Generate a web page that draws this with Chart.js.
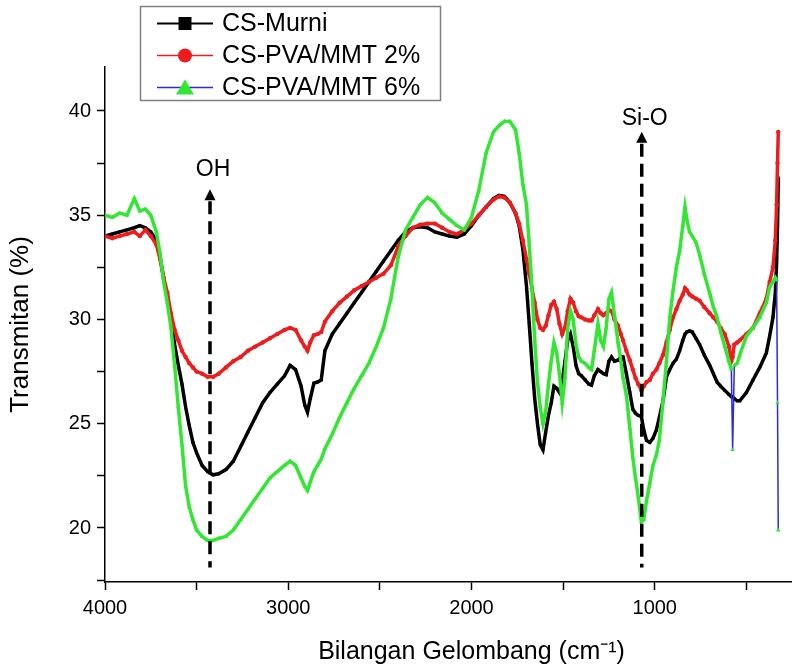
<!DOCTYPE html>
<html>
<head>
<meta charset="utf-8">
<script src="https://cdn.jsdelivr.net/npm/chart.js@4.4.1/dist/chart.umd.min.js"></script>
<style>
  html, body { margin: 0; padding: 0; background: #fff; overflow: hidden; width: 792px; height: 669px; }
  #wrap { position: relative; width: 850px; height: 669px; }
</style>
</head>
<body>
<div id="wrap"><canvas id="c"></canvas></div>
<script>
// ---- data ----
const wavenumbers = [4000,3960,3920,3880,3840,3810,3780,3750,3720,3700,3680,3660,3640,3620,3600,3580,3560,3540,3520,3500,
  3470,3440,3410,3380,3340,3300,3260,3220,3180,3140,3100,3060,3020,2990,2960,2930,2910,2895,2880,2860,
  2840,2820,2800,2760,2720,2680,2640,2600,2560,2520,2480,2440,2400,2360,2320,2280,2240,2200,2160,2120,
  2080,2040,2000,1960,1920,1880,1850,1820,1790,1760,1740,1720,1700,1685,1670,1655,1640,1625,1610,1595,
  1580,1565,1550,1535,1520,1505,1490,1475,1460,1445,1430,1415,1400,1380,1360,1345,1330,1310,1295,1280,
  1265,1250,1236,1220,1200,1185,1173,1155,1136,1120,1105,1090,1073,1060,1045,1027,1010,991,975,955,
  936,918,900,882,864,847,835,825,810,795,775,755,730,700,680,660,640,618,595,582,
  575,566,550,536,500,464,427,391,373,355,342,335,330,326];

const csMurni = [34.0,34.1,34.2,34.3,34.4,34.5,34.4,34.2,33.8,33.0,32.0,31.0,30.0,28.8,27.8,26.9,25.8,24.9,24.1,23.6,
  23.0,22.7,22.55,22.6,22.8,23.2,23.9,24.6,25.3,26.0,26.5,26.9,27.3,27.8,27.6,26.8,25.9,25.55,26.2,26.95,
  27.0,27.1,28.5,29.3,29.8,30.3,30.8,31.3,31.8,32.3,32.8,33.3,33.8,34.2,34.4,34.45,34.4,34.2,34.1,34.0,
  33.95,34.1,34.5,35.0,35.4,35.8,35.95,35.9,35.6,35.1,34.5,33.4,31.6,29.8,27.9,26.2,25.0,24.0,23.75,24.6,
  25.4,26.0,26.8,26.7,26.5,27.0,28.0,29.0,29.3,28.7,27.8,27.4,27.3,27.1,26.9,26.85,27.3,27.6,27.5,27.4,
  27.35,28.0,28.2,28.0,28.05,28.2,28.2,27.4,26.5,25.7,25.5,25.4,25.35,24.7,24.2,24.1,24.3,24.7,25.3,26.1,
  27.25,27.6,27.9,28.1,28.5,29.0,29.3,29.4,29.45,29.4,29.1,28.8,28.3,27.8,27.4,27.0,26.8,26.6,26.4,26.3,
  26.3,26.2,26.1,26.1,26.5,27.1,27.7,28.4,29.2,30.1,31.3,32.7,34.5,36.8];

const csPva2 = [34.0,33.9,34.0,34.1,34.2,34.0,34.3,34.0,33.6,32.9,32.0,31.3,30.3,29.5,29.0,28.5,28.2,27.9,27.7,27.5,
  27.4,27.25,27.25,27.4,27.7,28.0,28.2,28.5,28.7,28.9,29.1,29.3,29.5,29.6,29.5,29.0,28.7,28.5,28.9,29.25,
  29.3,29.4,29.9,30.4,30.8,31.1,31.4,31.6,31.8,32.0,32.2,32.6,33.5,34.0,34.4,34.55,34.6,34.6,34.4,34.2,
  34.1,34.3,34.6,35.0,35.4,35.75,35.9,35.85,35.6,35.1,34.6,33.8,32.9,32.2,31.5,30.8,30.0,29.6,29.5,29.7,
  30.2,30.7,30.85,30.5,29.8,29.3,29.6,30.4,31.0,30.8,30.4,30.15,30.1,30.0,29.95,29.95,30.2,30.5,30.3,30.2,
  30.3,30.45,30.4,30.0,29.7,29.3,29.0,28.5,28.05,27.6,27.2,26.9,26.6,26.8,27.0,27.1,27.4,27.6,27.9,28.3,
  28.9,29.5,30.1,30.5,30.9,31.2,31.5,31.4,31.2,31.1,31.0,30.9,30.6,30.3,30.1,29.9,29.6,29.3,28.7,28.0,
  28.2,28.8,28.9,29.0,29.3,29.6,30.3,31.0,31.8,32.5,33.8,35.5,37.5,39.0];

const csPva6 = [35.0,34.9,35.1,35.0,35.8,35.2,35.3,35.0,34.2,33.2,31.8,30.8,29.6,27.8,25.8,24.0,22.0,21.0,20.4,19.9,
  19.6,19.4,19.4,19.5,19.6,19.9,20.4,20.9,21.4,21.9,22.4,22.7,23.0,23.2,23.0,22.4,22.0,21.8,22.2,22.7,
  23.0,23.3,23.8,24.5,25.3,26.0,26.7,27.3,27.9,28.7,29.6,31.0,33.0,34.3,34.9,35.5,35.85,35.6,35.1,34.8,
  34.5,34.3,34.9,36.2,38.0,39.0,39.3,39.5,39.5,39.1,38.0,36.5,35.5,33.6,31.5,29.0,27.0,25.8,25.0,25.6,
  26.9,28.0,28.9,28.4,27.4,26.0,27.2,29.6,30.4,30.0,28.8,28.2,28.0,27.9,27.7,27.6,28.5,29.8,29.0,28.7,
  29.6,31.0,31.3,30.2,28.9,28.0,27.2,26.4,24.8,23.4,22.4,21.5,20.3,20.4,21.3,22.15,23.0,23.5,24.2,26.1,
  28.0,30.1,31.4,32.5,33.3,34.5,35.4,34.8,34.2,34.0,33.7,33.1,32.2,31.25,30.6,30.1,29.4,28.7,28.0,27.6,
  23.75,27.8,27.9,28.3,29.2,29.6,30.1,30.8,31.55,31.8,32.0,31.9,26.0,19.9];

const seriesNames = ['CS-Murni', 'CS-PVA/MMT 2%', 'CS-PVA/MMT 6%'];
const xTickValues = [0,500,1000,1500,2000,2500,3000,3500,4000];
const xTickLabels = [0,1000,2000,3000,4000];
const yTickValues = [17.5,20,22.5,25,27.5,30,32.5,35,37.5,40];
const yTickLabels = [20,25,30,35,40];
const annotations = [
  { label: 'OH',   wavenumber: 3427, tip: 36.25, labelY: 36.9 },
  { label: 'Si-O', wavenumber: 1071, tip: 39.0,  labelY: 39.35 }
];
const annotationBottom = 18.1;

const BLACK = '#000000', RED = '#ee1c1c', GREEN = '#33e633', BLUE = '#2a2ae6';

function pts(arr) { return wavenumbers.map((w, i) => ({ x: w, y: arr[i] })); }

const annotationPlugin = {
  id: 'arrows',
  afterDatasetsDraw(chart) {
    const { ctx, scales: { x, y } } = chart;
    ctx.save();
    annotations.forEach(a => {
      const px = x.getPixelForValue(a.wavenumber);
      const top = y.getPixelForValue(a.tip);
      const bot = y.getPixelForValue(annotationBottom);
      ctx.strokeStyle = '#000';
      ctx.lineWidth = 3.5;
      ctx.setLineDash([13, 7]);
      ctx.beginPath();
      ctx.moveTo(px, top + 12);
      ctx.lineTo(px, bot);
      ctx.stroke();
      ctx.setLineDash([]);
      ctx.fillStyle = '#000';
      ctx.beginPath();
      ctx.moveTo(px, top);
      ctx.lineTo(px - 5.5, top + 11);
      ctx.lineTo(px + 5.5, top + 11);
      ctx.closePath();
      ctx.fill();
      ctx.font = '23px "Liberation Sans", Arial, sans-serif';
      ctx.textAlign = 'center';
      ctx.textBaseline = 'alphabetic';
      ctx.fillText(a.label, px + 3, y.getPixelForValue(a.labelY));
    });
    ctx.restore();
  }
};

const legendPlugin = {
  id: 'boxLegend',
  afterDraw(chart) {
    const { ctx } = chart;
    ctx.save();
    ctx.strokeStyle = '#808080';
    ctx.lineWidth = 1.5;
    ctx.strokeRect(140.5, 6.5, 300, 94);
    const rows = [23.5, 55.5, 87.5];
    const lineCols = [BLACK, RED, BLUE];
    chart.data.datasets.forEach((ds, i) => {
      const yy = rows[i];
      ctx.strokeStyle = lineCols[i];
      ctx.lineWidth = i === 0 ? 2 : 1.5;
      ctx.beginPath();
      ctx.moveTo(157, yy);
      ctx.lineTo(213, yy);
      ctx.stroke();
      const cx = 185;
      if (i === 0) {
        ctx.fillStyle = BLACK;
        ctx.fillRect(cx - 6.5, yy - 6.5, 13, 13);
      } else if (i === 1) {
        ctx.fillStyle = RED;
        ctx.beginPath();
        ctx.arc(cx, yy, 7, 0, Math.PI * 2);
        ctx.fill();
      } else {
        ctx.fillStyle = GREEN;
        ctx.beginPath();
        ctx.moveTo(cx, yy - 8);
        ctx.lineTo(cx - 9, yy + 7);
        ctx.lineTo(cx + 9, yy + 7);
        ctx.closePath();
        ctx.fill();
      }
      ctx.fillStyle = '#000';
      ctx.font = '25px "Liberation Sans", Arial, sans-serif';
      ctx.textAlign = 'left';
      ctx.textBaseline = 'middle';
      ctx.fillText(ds.label, 222, yy + 1);
    });
    ctx.restore();
  }
};

new Chart(document.getElementById('c'), {
  type: 'line',
  data: {
    datasets: [
      {
        label: seriesNames[0], data: pts(csMurni), order: 2,
        borderColor: BLACK, borderWidth: 3.5, pointStyle: 'rect', pointRadius: 2,
        pointBackgroundColor: BLACK, pointBorderColor: BLACK, pointBorderWidth: 0
      },
      {
        label: seriesNames[1], data: pts(csPva2), order: 1,
        borderColor: RED, borderWidth: 3.5, pointStyle: 'circle', pointRadius: 2.2,
        pointBackgroundColor: RED, pointBorderColor: RED, pointBorderWidth: 0
      },
      {
        label: seriesNames[2], data: pts(csPva6), order: 0,
        borderColor: GREEN, borderWidth: 3.5, pointStyle: 'triangle', pointRadius: 2.6,
        pointBackgroundColor: GREEN, pointBorderColor: GREEN, pointBorderWidth: 0,
        segment: {
          borderColor: c => Math.abs(c.p1.parsed.y - c.p0.parsed.y) > 3 ? BLUE : undefined,
          borderWidth: c => Math.abs(c.p1.parsed.y - c.p0.parsed.y) > 3 ? 1.5 : undefined
        }
      }
    ]
  },
  options: {
    responsive: true,
    maintainAspectRatio: false,
    animation: false,
    devicePixelRatio: 1,
    layout: { padding: { top: 67, right: 12, left: 0, bottom: 0 } },
    plugins: { legend: { display: false }, tooltip: { enabled: false } },
    elements: { line: { tension: 0 } },
    scales: {
      x: {
        type: 'linear', reverse: true, min: 0, max: 4000, bounds: 'data',
        afterBuildTicks: s => { s.ticks = xTickValues.map(v => ({ value: v })); },
        afterFit: s => { s.height = 87; },
        border: { display: true, color: '#000', width: 1.5 },
        grid: { display: true, drawOnChartArea: false, drawTicks: true, tickLength: 8, tickColor: '#000', tickWidth: 1.5 },
        ticks: {
          autoSkip: false, maxRotation: 0, padding: 6, color: '#000',
          font: { family: '"Liberation Sans", Arial, sans-serif', size: 20 },
          callback: v => xTickLabels.includes(v) ? String(v) : ''
        },
        title: {
          display: true, text: 'Bilangan Gelombang (cm\u207B\u00B9)', color: '#000',
          font: { family: '"Liberation Sans", Arial, sans-serif', size: 25 },
          padding: { top: 0, bottom: 2 }
        }
      },
      y: {
        type: 'linear', min: 17.41, max: 42.11, bounds: 'data',
        afterBuildTicks: s => { s.ticks = yTickValues.map(v => ({ value: v })); },
        afterFit: s => { s.width = 105; },
        border: { display: true, color: '#000', width: 1.5 },
        grid: { display: true, drawOnChartArea: false, drawTicks: true, tickLength: 8, tickColor: '#000', tickWidth: 1.5 },
        ticks: {
          autoSkip: false, padding: 6, color: '#000',
          font: { family: '"Liberation Sans", Arial, sans-serif', size: 20 },
          callback: v => yTickLabels.includes(v) ? String(v) : ''
        },
        title: {
          display: true, text: 'Transmitan (%)', color: '#000',
          font: { family: '"Liberation Sans", Arial, sans-serif', size: 26 },
          padding: { top: 5, bottom: 0 }
        }
      }
    }
  },
  plugins: [annotationPlugin, legendPlugin]
});
</script>
</body>
</html>
